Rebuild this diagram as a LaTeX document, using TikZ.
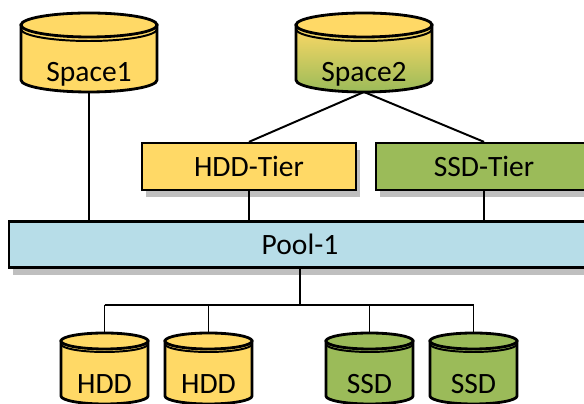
\documentclass[tikz,border=0pt]{standalone}
\usepackage{fontspec}
\setmainfont{Carlito}
\usetikzlibrary{shadows}
\definecolor{hddyel}{HTML}{FFD966}
\definecolor{ssdgrn}{HTML}{9BBB59}
\definecolor{poolblu}{HTML}{B7DDE8}
\tikzset{
  disk w/.store in=\diskw, disk ry/.store in=\diskry, disk h/.store in=\diskh,
  disk txt/.store in=\disktxt, disk rim/.store in=\diskrim,
  disk w=136, disk ry=12, disk h=55, disk txt=-57, disk rim=4,
  small disk/.style={disk w=87, disk ry=8, disk txt=-53, disk rim=3},
  pics/disk/.style n args={3}{code={
    \draw[line width=2pt, #1] (-\diskw/2,0) -- (-\diskw/2,-\diskh)
      arc[start angle=180, end angle=360, x radius=\diskw/2, y radius=\diskry] -- (\diskw/2,0) -- cycle;
    \draw[line width=2pt, fill=#2] (0,0) ellipse[x radius=\diskw/2, y radius=\diskry];
    \draw[line width=1.4pt] (-\diskw/2,-\diskrim)
      arc[start angle=180, end angle=360, x radius=\diskw/2, y radius=\diskry];
    \node[anchor=base] (-txt) at (0,\disktxt) {#3};
    \coordinate (-top) at (0,\diskry);
    \coordinate (-bot) at (0,-\diskh-\diskry);
  }},
  box/.style={draw, line width=1.6pt, minimum height=11.75mm,
    drop shadow={shadow xshift=0.9mm, shadow yshift=-1.8mm, fill=black, opacity=.25}},
  link/.style={line width=1.4pt},
}
\begin{document}
\begin{tikzpicture}[x=0.25mm, y=0.25mm, font=\fontsize{21}{25}\selectfont]
  \useasboundingbox (0,0) rectangle (584,404);
  \clip (0,0) rectangle (584,404);
  % storage spaces
  \pic (sp1) at (89,379) {disk={fill=hddyel}{hddyel}{Space1}};
  \pic (sp2) at (364,379) {disk={top color=hddyel, bottom color=ssdgrn}{hddyel}{Space2}};
  % tiers and pool
  \node[box, fill=hddyel, minimum width=53.5mm] (hddt) at (249,237.5) {HDD-Tier};
  \node[box, fill=ssdgrn, minimum width=54mm] (ssdt) at (484,237.5) {SSD-Tier};
  \node[box, fill=poolblu, minimum width=145.5mm, minimum height=11.5mm] (pool) at (300,159.5) {Pool-1};
  % disks
  \foreach \n/\x/\c/\t in {hdd1/104.5/hddyel/HDD, hdd2/208.5/hddyel/HDD, ssd1/369.5/ssdgrn/SSD, ssd2/473.5/ssdgrn/SSD}
    \pic[small disk] (\n) at (\x,63) {disk={fill=\c}{\c}{\t}};
  % connections
  \draw[link] (sp1-bot) -- (sp1-bot |- pool.north);
  \draw[link] (sp2-bot) -- (hddt.north);
  \draw[link] (sp2-bot) -- (ssdt.north);
  \draw[link] (hddt.south) -- (hddt.south |- pool.north);
  \draw[link] (ssdt.south) -- (ssdt.south |- pool.north);
  \draw[link] (pool.south) -- ++(0,-36) coordinate (bus);
  \draw[link] (bus -| hdd1-top) -- (bus -| ssd2-top);
  \foreach \n in {hdd1,hdd2,ssd1,ssd2}
    \draw[link] (bus -| \n-top) -- (\n-top);
\end{tikzpicture}
\end{document}
